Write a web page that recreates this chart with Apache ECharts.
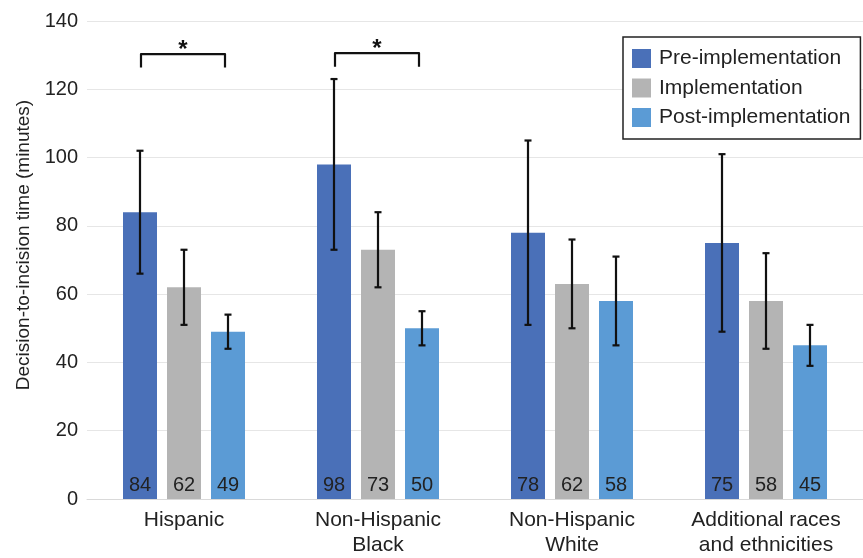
<!DOCTYPE html>
<html>
<head>
<meta charset="utf-8">
<script src="https://cdn.jsdelivr.net/npm/echarts@6/dist/echarts.min.js"></script>
<style>
  html, body { margin: 0; padding: 0; background: #fff; }
  #chart { width: 863px; height: 558px; }
</style>
</head>
<body>
<div id="chart"></div>
<script>
// ---- Data ----
const categories = ['Hispanic', 'Non-Hispanic\nBlack', 'Non-Hispanic\nWhite', 'Additional races\nand ethnicities'];
const seriesNames = ['Pre-implementation', 'Implementation', 'Post-implementation'];

const preValues  = [84, 98, 78, 75];
const preLow     = [66, 73, 51, 49];
const preHigh    = [102, 123, 105, 101];
const preLabels  = ['84', '98', '78', '75'];

const impValues  = [62, 73, 63, 58];
const impLow     = [51, 62, 50, 44];
const impHigh    = [73, 84, 76, 72];
const impLabels  = ['62', '73', '62', '58'];

const postValues = [49, 50, 58, 45];
const postLow    = [44, 45, 45, 39];
const postHigh   = [54, 55, 71, 51];
const postLabels = ['49', '50', '58', '45'];

// significance brackets (category index, top y, tick end y in data units)
const sigCategories = [0, 1];
const sigTop        = [130.3, 130.6];
const sigBottom     = [126.4, 126.6];
const sigText       = ['*', '*'];

const yTicks = { min: 0, max: 140, interval: 20 };

// ---- Styles ----
const FONT = "'Liberation Sans', Arial, sans-serif";
const COLORS = ['#4A70B8', '#B4B4B4', '#5B9BD5'];
const BAR_W = 34;
const BAR_GAP = 10;

const chart = echarts.init(document.getElementById('chart'), null, { renderer: 'canvas' });

const valueSets = [preValues, impValues, postValues];
const lowSets = [preLow, impLow, postLow];
const highSets = [preHigh, impHigh, postHigh];
const labelSets = [preLabels, impLabels, postLabels];

const barSeries = seriesNames.map((name, s) => ({
  name: name,
  type: 'bar',
  barWidth: BAR_W,
  barGap: (BAR_GAP / BAR_W * 100) + '%',
  data: valueSets[s],
  itemStyle: { color: COLORS[s] },
  label: {
    show: true,
    position: 'insideBottom',
    distance: 4,
    fontFamily: FONT,
    fontSize: 20,
    color: '#222',
    formatter: p => labelSets[s][p.dataIndex]
  },
  z: 2
}));

const errData = [];
for (let s = 0; s < 3; s++) {
  for (let c = 0; c < categories.length; c++) {
    errData.push([c, s, lowSets[s][c], highSets[s][c]]);
  }
}

const errSeries = {
  type: 'custom',
  name: 'err',
  data: errData,
  z: 5,
  silent: true,
  encode: { x: 0, y: [2, 3] },
  renderItem: function (params, api) {
    const c = api.value(0), s = api.value(1);
    const off = (s - 1) * (BAR_W + BAR_GAP);
    const lo = api.coord([c, api.value(2)]);
    const hi = api.coord([c, api.value(3)]);
    const x = lo[0] + off;
    const capHalf = 3.5;
    const st = { stroke: '#111', lineWidth: 2.2 };
    return {
      type: 'group',
      children: [
        { type: 'line', shape: { x1: x, y1: lo[1], x2: x, y2: hi[1] }, style: st },
        { type: 'line', shape: { x1: x - capHalf, y1: lo[1], x2: x + capHalf, y2: lo[1] }, style: st },
        { type: 'line', shape: { x1: x - capHalf, y1: hi[1], x2: x + capHalf, y2: hi[1] }, style: st }
      ]
    };
  }
};

const sigData = sigCategories.map((c, i) => [c, sigTop[i], sigBottom[i], i]);
const sigSeries = {
  type: 'custom',
  name: 'sig',
  data: sigData,
  z: 5,
  silent: true,
  encode: { x: 0, y: [1, 2] },
  renderItem: function (params, api) {
    const c = api.value(0);
    const top = api.coord([c, api.value(1)]);
    const bot = api.coord([c, api.value(2)]);
    const idx = api.value(3);
    const xl = top[0] - (BAR_W + BAR_GAP) + 1;
    const xr = top[0] + (BAR_W + BAR_GAP) - 3;
    const st = { stroke: '#111', lineWidth: 2.2, fill: null, lineJoin: 'round' };
    return {
      type: 'group',
      children: [
        { type: 'polyline', shape: { points: [[xl, bot[1]], [xl, top[1]], [xr, top[1]], [xr, bot[1]]] }, style: st },
        { type: 'text', style: { text: sigText[idx], x: (xl + xr) / 2, y: top[1] - 4, align: 'center', verticalAlign: 'middle', fontFamily: FONT, fontSize: 24, fontWeight: 'bold', fill: '#111' } }
      ]
    };
  }
};

chart.setOption({
  animation: false,
  backgroundColor: '#fff',
  textStyle: { fontFamily: FONT },
  grid: { left: 87, top: 21, width: 777, bottom: 58, containLabel: false },
  legend: {
    data: seriesNames,
    orient: 'vertical',
    left: 623,
    top: 37,
    padding: [11, 10, 11, 9],
    itemWidth: 19,
    itemHeight: 19,
    itemGap: 8.5,
    icon: 'rect',
    borderColor: '#222',
    borderWidth: 1.5,
    backgroundColor: '#fff',
    textStyle: { fontFamily: FONT, fontSize: 21, color: '#222', lineHeight: 19, padding: [0, 0, 0, 3] }
  },
  xAxis: {
    type: 'category',
    data: categories,
    axisLine: { lineStyle: { color: '#d9d9d9', width: 1 } },
    axisTick: { show: false },
    axisLabel: { interval: 0, fontFamily: FONT, fontSize: 21, lineHeight: 25, color: '#222', margin: 9 }
  },
  yAxis: {
    type: 'value',
    min: yTicks.min,
    max: yTicks.max,
    interval: yTicks.interval,
    name: 'Decision-to-incision time (minutes)',
    nameLocation: 'middle',
    nameGap: 52,
    nameTextStyle: { fontFamily: FONT, fontSize: 19, color: '#222', padding: [0, 0, 0, 30] },
    axisLine: { show: false },
    axisTick: { show: false },
    axisLabel: { fontFamily: FONT, fontSize: 20, color: '#222', margin: 9 },
    splitLine: { lineStyle: { color: '#e6e6e6', width: 1 } }
  },
  series: [...barSeries, errSeries, sigSeries]
});
</script>
</body>
</html>
